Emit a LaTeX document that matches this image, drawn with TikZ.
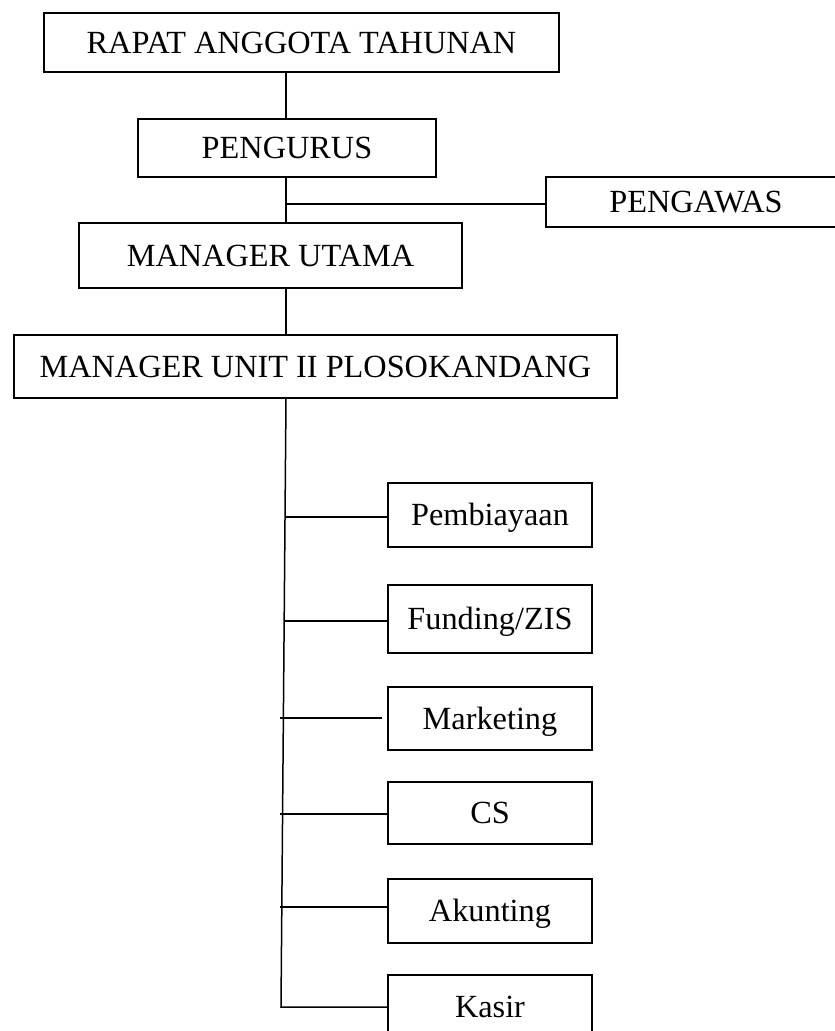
\documentclass[tikz,border=0pt]{standalone}
\usepackage{fontspec}
\setmainfont{Liberation Serif}
\begin{document}
\begin{tikzpicture}[x=1bp,y=-1bp,
  box/.style={draw,line width=1.6bp,rectangle,inner sep=0pt,
    text height=21bp,text depth=0bp,
    font=\fontsize{32.3bp}{38bp}\selectfont},
  link/.style={line width=1.5bp}]
\clip (0,0) rectangle (835,1031);
% boxes
\node[box,minimum width=515bp,minimum height=59bp] (rat) at (301.5,42.5) {RAPAT ANGGOTA TAHUNAN};
\node[box,minimum width=298bp,minimum height=58bp] (peng) at (287,148) {PENGURUS};
\node[box,minimum width=300bp,minimum height=50bp] (pws) at (696,202) {PENGAWAS};
\node[box,minimum width=383bp,minimum height=65bp] (mu) at (270.5,255.5) {MANAGER UTAMA};
\node[box,minimum width=603bp,minimum height=63bp] (mun) at (315.5,366.5) {MANAGER UNIT II PLOSOKANDANG};
\node[box,minimum width=204bp,minimum height=64bp] (pem) at (490,515) {Pembiayaan};
\node[box,minimum width=204bp,minimum height=68bp] (fund) at (490,619) {Funding/ZIS};
\node[box,minimum width=204bp,minimum height=63bp] (mkt) at (490,718.5) {Marketing};
\node[box,minimum width=204bp,minimum height=62bp] (cs) at (490,813) {CS};
\node[box,minimum width=204bp,minimum height=64bp] (akt) at (490,911) {Akunting};
\node[box,minimum width=204bp,minimum height=64bp] (ksr) at (490,1007) {Kasir};
% top chain
\coordinate (ax) at (286,0);
\draw[link] (rat.south -| ax) -- (peng.north -| ax);
\draw[link] (peng.south -| ax) -- (mu.north -| ax);
\coordinate (pj) at (286,204);
\draw[link] (pj) -- (pj -| pws.west);
\draw[link] (mu.south -| ax) -- (mun.north -| ax);
% spine
\coordinate (sp1) at (286,398);
\coordinate (sp2) at (281,1007);
\draw[link] (sp1) -- (sp2) -- (sp2 -| ksr.west);
\coordinate (b1) at (285,517);
\coordinate (b2) at (285,621);
\coordinate (b3) at (280,718);
\coordinate (b4) at (280,814);
\coordinate (b5) at (280,907);
\draw[link] (b1) -- (b1 -| pem.west);
\draw[link] (b2) -- (b2 -| fund.west);
\draw[link] (b3) -- ([xshift=-5bp]b3 -| mkt.west);
\draw[link] (b4) -- (b4 -| cs.west);
\draw[link] (b5) -- (b5 -| akt.west);
\end{tikzpicture}
\end{document}
